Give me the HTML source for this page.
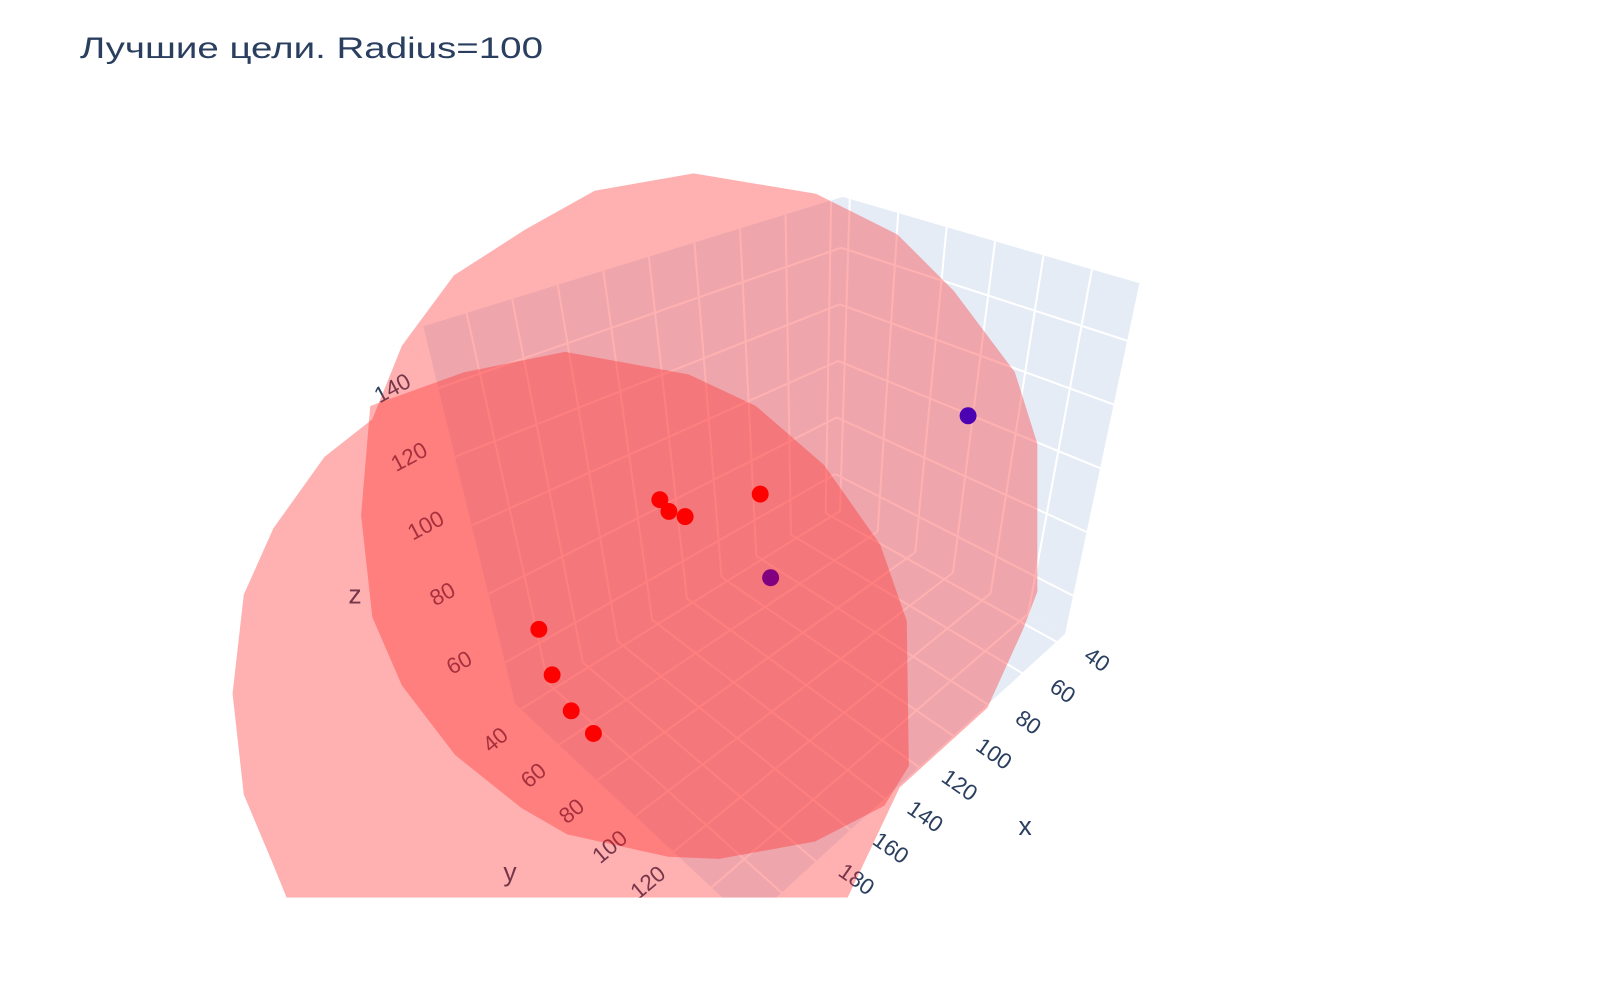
<!DOCTYPE html>
<html>
<head>
<meta charset="utf-8">
<style>
  html,body{margin:0;padding:0;background:#fff;}
  svg{display:block;}
  text{font-family:"Liberation Sans","DejaVu Sans",sans-serif;fill:#2a3f5f;}
</style>
</head>
<body>
<svg id="chart" width="1600" height="1000" viewBox="0 0 1600 1000" xmlns="http://www.w3.org/2000/svg">
  <rect x="0" y="0" width="1600" height="1000" fill="#ffffff"/>
  <text x="80" y="58" font-size="30" textLength="463" lengthAdjust="spacingAndGlyphs">Лучшие цели. Radius=100</text>
  <defs>
    <clipPath id="sceneClip"><rect x="0" y="0" width="1600" height="880"/></clipPath>
  </defs>
  <g transform="scale(1.02)">
    <g clip-path="url(#sceneClip)">
      <g id="walls"></g>
      <g id="grid"></g>
      <g id="labels"></g>
      <g id="spheres">
        <polygon fill="rgb(255,39,39)" fill-opacity="0.36"
          points="680,170 800,190 880,230 935,285 995,365 1017,435 1017,580 1003,617 968,694 882,772 831,880 281,880 268,848 239,779 228,680 239,583 268,518 318,448 365,411 394,339 445,270 515,225 583,187"/>
        <polygon fill="rgb(255,39,39)" fill-opacity="0.36"
          points="554,345 675,367 741,398 808,456 863,534 889,609 891,751 867,790 799,825 705,842 655,840 556,818 511,792 446,740 394,672 365,605 354,505 363,398 455,365"/>
      </g>
      <g id="points"></g>
    </g>
  </g>
</svg>
<script>
// ---- data ----
const xTicks = [40, 60, 80, 100, 120, 140, 160, 180, 200];
const xTickLabels = [40, 60, 80, 100, 120, 140, 160, 180];
const yTicks = [40, 60, 80, 100, 120, 140, 160];
const zTicks = [60, 80, 100, 120, 140];
const xRange = [35, 219];
const yRange = [37, 160];
const zRange = [48, 158];
const pointX = [98, 89, 141, 188.6, 184.9, 177.5, 210.8, 210.8, 210.8, 210.8];
const pointY = [61.6, 141.6, 98.5, 98.5, 98.5, 98.5, 51.8, 54.2, 61.6, 72.7];
const pointZ = [57.3, 132, 112, 125, 120.6, 116.9, 74.5, 62.5, 55.8, 54.8];
const pointColor = ["#800080", "#4b00b4", "#ff0000", "#ff0000", "#ff0000", "#ff0000", "#ff0000", "#ff0000", "#ff0000", "#ff0000"];

const C = {
  b0:[818,498], l0:[505,690], r0:[1045,622], f0:[735,905],
  b1:[826,193], l1:[415,320], r1:[1118,278], f1:[725,485]
};
function bil(a,b,c,d,u,v){
  return [
    a[0]*(1-u)*(1-v)+b[0]*u*(1-v)+c[0]*(1-u)*v+d[0]*u*v,
    a[1]*(1-u)*(1-v)+b[1]*u*(1-v)+c[1]*(1-u)*v+d[1]*u*v
  ];
}
function P(u,v,w){
  const lo=bil(C.b0,C.l0,C.r0,C.f0,u,v), hi=bil(C.b1,C.l1,C.r1,C.f1,u,v);
  return [lo[0]*(1-w)+hi[0]*w, lo[1]*(1-w)+hi[1]*w];
}
const U = x => (x - xRange[0])/(xRange[1]-xRange[0]);
const V = y => (y - yRange[0])/(yRange[1]-yRange[0]);
const W = z => (z - zRange[0])/(zRange[1]-zRange[0]);

const NS="http://www.w3.org/2000/svg";
function mk(tag, attrs, parent){
  const e=document.createElementNS(NS,tag);
  for(const k in attrs) e.setAttribute(k,attrs[k]);
  parent.appendChild(e); return e;
}
const pts = arr => arr.map(p=>p[0].toFixed(1)+","+p[1].toFixed(1)).join(" ");

const walls=document.getElementById('walls');
let el;
el=mk('polygon',{points:pts([P(0,0,0),P(1,0,0),P(1,0,1),P(0,0,1)]),fill:'#e5ecf6'},walls);


el=mk('polygon',{points:pts([P(0,0,0),P(0,1,0),P(0,1,1),P(0,0,1)]),fill:'#e5ecf6'},walls);


el=mk('polygon',{points:pts([P(0,0,0),P(1,0,0),P(1,1,0),P(0,1,0)]),fill:'#e5ecf6'},walls);



const grid=document.getElementById('grid');
function line(a,b,name){
  const l=mk('line',{x1:a[0],y1:a[1],x2:b[0],y2:b[1],stroke:'#ffffff','stroke-width':2},grid);
  
  
}
xTicks.forEach(t=>{const u=U(t); if(u<0||u>1) return;
  line(P(u,0,0),P(u,0,1),'gridline-x-wall');
  line(P(u,0,0),P(u,1,0),'gridline-x-floor');});
yTicks.forEach(t=>{const v=V(t); if(v<0||v>1) return;
  line(P(0,v,0),P(0,v,1),'gridline-y-wall');
  line(P(0,v,0),P(1,v,0),'gridline-y-floor');});
zTicks.forEach(t=>{const w=W(t); if(w<0||w>1) return;
  line(P(0,0,w),P(1,0,w),'gridline-z-wall-left');
  line(P(0,0,w),P(0,1,w),'gridline-z-wall-right');});

const labels=document.getElementById('labels');
function lab(txt,p,dx,dy,rot,size,name){
  const x=p[0]+dx, y=p[1]+dy;
  const t=mk('text',{x:x,y:y,'font-size':size,'text-anchor':'middle','dominant-baseline':'central',
    transform:'rotate('+rot+' '+x+' '+y+')'},labels);
  t.textContent=txt;
  
  
}
xTickLabels.forEach(t=>lab(String(t),P(U(t),1,0),39,17,35,22,'x-tick-label'));
yTicks.forEach(t=>lab(String(t),P(1,V(t),0),-25,30,-40,22,'y-tick-label'));
zTicks.forEach(t=>lab(String(t),P(1,0,W(t)),-45,0,-28,22,'z-tick-label'));
lab('x',[1005,810],0,0,0,26,'x-axis-title');
lab('y',[500,855],0,0,0,26,'y-axis-title');
lab('z',[348,583],0,0,0,26,'z-axis-title');

const pg=document.getElementById('points');
for(let i=0;i<pointX.length;i++){
  const p=P(U(pointX[i]),V(pointY[i]),W(pointZ[i]));
  const c=mk('circle',{cx:p[0].toFixed(1),cy:p[1].toFixed(1),r:8.3,fill:pointColor[i]},pg);
  
  
}
</script>
</body>
</html>
